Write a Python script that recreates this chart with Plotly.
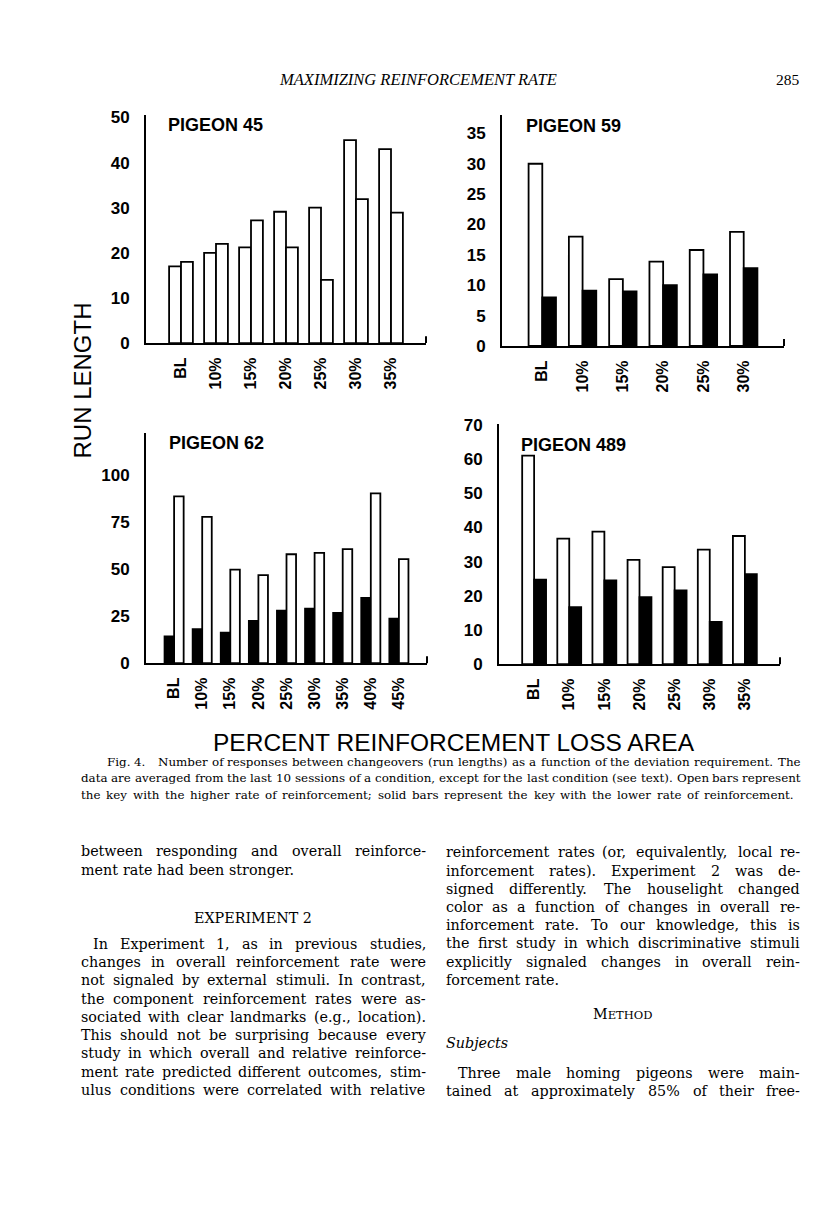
import plotly.graph_objects as go

W, H = 816, 1207

# ---- data ----
cats45 = ["BL", "10%", "15%", "20%", "25%", "30%", "35%"]
p45_first = [17, 20, 21.2, 29.1, 30, 45, 43]
p45_second = [18, 22, 27.2, 21.2, 14, 31.9, 28.9]

cats59 = ["BL", "10%", "15%", "20%", "25%", "30%"]
p59_open = [30, 18, 11, 13.9, 15.8, 18.8]
p59_solid = [8, 9.1, 9, 10, 11.8, 12.8]

cats62 = ["BL", "10%", "15%", "20%", "25%", "30%", "35%", "40%", "45%"]
p62_solid = [14.3, 18.1, 16.2, 22.5, 27.9, 29, 26.7, 34.7, 23.7]
p62_open = [88.7, 77.8, 49.7, 46.8, 57.9, 58.6, 60.6, 90.2, 55.3]

cats489 = ["BL", "10%", "15%", "20%", "25%", "30%", "35%"]
p489_open = [61, 36.7, 38.8, 30.5, 28.4, 33.5, 37.5]
p489_solid = [24.7, 16.7, 24.5, 19.6, 21.6, 12.4, 26.3]

OPEN, SOLID = "white", "black"

# panel spec: data + where it sits on the page (pixel boxes: left, right, bottom, top)
panels = [
    dict(title="PIGEON 45", cats=cats45, series=[(p45_first, OPEN), (p45_second, OPEN)],
         yticks=[0, 10, 20, 30, 40, 50], ytop=50.66, box=(138, 418, 332, 100), tpos=(158, 111)),
    dict(title="PIGEON 59", cats=cats59, series=[(p59_open, OPEN), (p59_solid, SOLID)],
         yticks=[0, 5, 10, 15, 20, 25, 30, 35], ytop=38.1, box=(494, 776, 335, 100), tpos=(516, 112)),
    dict(title="PIGEON 62", cats=cats62, series=[(p62_solid, SOLID), (p62_open, OPEN)],
         yticks=[0, 25, 50, 75, 100], ytop=122.5, box=(138, 419, 657, 423), tpos=(159, 433)),
    dict(title="PIGEON 489", cats=cats489, series=[(p489_open, OPEN), (p489_solid, SOLID)],
         yticks=[0, 10, 20, 30, 40, 50, 60, 70], ytop=70.3, box=(491, 772, 658, 414), tpos=(511, 436)),
]

# ---- page text ----
caption = [
    "Fig. 4.   Number of responses between changeovers (run lengths) as a function of the deviation requirement. The",
    "data are averaged from the last 10 sessions of a condition, except for the last condition (see text). Open bars represent",
    "the key with the higher rate of reinforcement; solid bars represent the key with the lower rate of reinforcement.",
]
left_col = [
    "between responding and overall reinforce-",
    "ment rate had been stronger.",
]
left_col_2 = [
    "In Experiment 1, as in previous studies,",
    "changes in overall reinforcement rate were",
    "not signaled by external stimuli. In contrast,",
    "the component reinforcement rates were as-",
    "sociated with clear landmarks (e.g., location).",
    "This should not be surprising because every",
    "study in which overall and relative reinforce-",
    "ment rate predicted different outcomes, stim-",
    "ulus conditions were correlated with relative",
]
right_col = [
    "reinforcement rates (or, equivalently, local re-",
    "inforcement rates). Experiment 2 was de-",
    "signed differently. The houselight changed",
    "color as a function of changes in overall re-",
    "inforcement rate. To our knowledge, this is",
    "the first study in which discriminative stimuli",
    "explicitly signaled changes in overall rein-",
    "forcement rate.",
]
right_col_2 = [
    "Three male homing pigeons were main-",
    "tained at approximately 85% of their free-",
]


def px(x):
    return x / W


def py(y):
    return 1 - y / H


SANS = "Liberation Sans"
SERIF = "DejaVu Serif"
HEAD_SERIF = "Liberation Serif"

# rough DejaVu Serif advance widths (per 1000 em), used to justify lines word by word
_w = {" ": 318, "!": 402, "%": 950, "'": 275, "(": 390, ")": 390, ",": 318, "-": 337,
      ".": 318, "/": 337, ":": 337, ";": 337, "?": 536}
_w.update({d: 636 for d in "0123456789"})
_w.update(zip("ABCDEFGHIJKLMNOPQRSTUVWXYZ",
              [722, 701, 714, 773, 693, 656, 768, 838, 403, 411, 752, 656, 958,
               836, 770, 654, 770, 727, 647, 689, 811, 722, 1040, 720, 687, 653]))
_w.update(zip("abcdefghijklmnopqrstuvwxyz",
              [596, 641, 560, 641, 593, 361, 641, 651, 322, 313, 611, 322, 969,
               651, 602, 641, 641, 479, 510, 402, 651, 583, 847, 583, 583, 533]))


def text_width(s, size):
    return sum(_w.get(c, 600) for c in s) * size / 1000


fig = go.Figure()
layout_axes = {}
shapes = []
annotations = []

for i, p in enumerate(panels, start=1):
    sx = "" if i == 1 else str(i)
    for vals, fill in p["series"]:
        fig.add_trace(go.Bar(
            x=p["cats"], y=vals, xaxis="x" + sx, yaxis="y" + sx,
            marker=dict(color=fill, line=dict(color="black", width=1.8)),
            showlegend=False, hoverinfo="skip",
        ))
    left, right, bottom, top = p["box"]
    layout_axes["xaxis" + sx] = dict(
        domain=[px(left), px(right)], anchor="y" + sx, type="category",
        range=[-1, len(p["cats"])], showline=True, linecolor="black", linewidth=2,
        ticks="", tickangle=-90, ticklabelstandoff=6, showgrid=False, zeroline=False,
        tickfont=dict(family=SANS, size=16, color="black", weight="bold"),
    )
    layout_axes["yaxis" + sx] = dict(
        domain=[py(bottom), py(top)], anchor="x" + sx, range=[0, p["ytop"]],
        tickvals=p["yticks"], showline=True, linecolor="black", linewidth=2,
        ticks="", ticklabelstandoff=11, showgrid=False, zeroline=False,
        tickfont=dict(family=SANS, size=17, color="black", weight="bold"),
    )
    # little upturned end of the baseline
    shapes.append(dict(type="line", xref=f"x{sx} domain", yref=f"y{sx} domain",
                       x0=1, x1=1, y0=0, y1=7 / (bottom - top),
                       line=dict(color="black", width=2)))
    annotations.append(dict(text=p["title"], x=px(p["tpos"][0]), y=py(p["tpos"][1]),
                            xref="paper", yref="paper", xanchor="left", yanchor="middle",
                            showarrow=False,
                            font=dict(family=SANS, size=18, color="black", weight="bold")))


def note(text, x, y, size, family=SERIF, anchor="left", angle=0):
    annotations.append(dict(text=text, x=px(x), y=py(y), xref="paper", yref="paper",
                            xanchor=anchor, yanchor="middle", showarrow=False,
                            textangle=angle, borderpad=0,
                            font=dict(family=family, size=size, color="black")))


def line_of_words(text, x0, x1, y, size, justify=True):
    words = text.split(" ")
    widths = [text_width(w, size) for w in words]
    gaps = len(words) - 1
    space = text_width(" ", size)
    gap = space
    if justify and gaps > 0:
        gap = max((x1 - x0 - sum(widths)) / gaps, 0.6 * space)
    x = x0
    for w, wd in zip(words, widths):
        if w:
            note(w, x, y, size)
        x += wd + gap


def column(lines, x0, x1, y0, lead, size, indent_first=0, last_ragged=False):
    for k, line in enumerate(lines):
        ragged = last_ragged and k == len(lines) - 1
        line_of_words(line, x0 + (indent_first if k == 0 else 0), x1, y0 + k * lead, size,
                      justify=not ragged)


# axis titles
note("RUN LENGTH", 74, 370, 24, family=SANS, anchor="center", angle=-90)
note("PERCENT REINFORCEMENT LOSS AREA", 446, 737, 24.5, family=SANS, anchor="center")

# running head
note("<i>MAXIMIZING REINFORCEMENT RATE</i>", 410, 64, 16.5, family=HEAD_SERIF, anchor="center")
note("285", 793, 64, 15.5, family=HEAD_SERIF, anchor="right")

# caption
CAP = 11.9
for k, line in enumerate(caption):
    line_of_words(line, 98 if k == 0 else 72, 792 if k < 2 else 785, 757 + 17 * k, CAP)

BODY = 14.3
LEAD = 18.5
LX0, LX1 = 72, 417
RX0, RX1 = 437, 791

column(left_col, LX0, LX1, 848, 19, BODY, last_ragged=True)
note("EXPERIMENT 2", (LX0 + LX1) / 2, 916, BODY, anchor="center")
column(left_col_2, LX0, LX1, 942, LEAD, BODY, indent_first=12)

column(right_col, RX0, RX1, 849, LEAD, BODY, last_ragged=True)
note("M<span style='font-size:11.5px'>ETHOD</span>", (RX0 + RX1) / 2, 1013, BODY, anchor="center")
note("<i>Subjects</i>", RX0, 1043, BODY)
column(right_col_2, RX0, RX1, 1073, LEAD, BODY, indent_first=12)

fig.update_layout(
    width=W, height=H, margin=dict(l=0, r=0, t=0, b=0),
    paper_bgcolor="white", plot_bgcolor="white",
    barmode="group", bargap=0.32, bargroupgap=0,
    shapes=shapes, annotations=annotations,
    **layout_axes,
)

fig.write_html("out.html")
